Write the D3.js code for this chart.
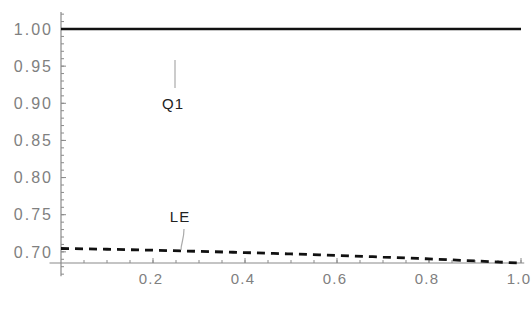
<!DOCTYPE html>
<html>
<head>
<meta charset="utf-8">
<script src="https://cdn.jsdelivr.net/npm/d3@7"></script>
<style>
  body { margin: 0; background: #fff; }
  text { font-family: "Liberation Sans", Arial, sans-serif; }
</style>
</head>
<body>
<div id="chart"></div>
<script>
// data
var xTicks = [0.2, 0.4, 0.6, 0.8, 1.0];
var yTicks = [0.70, 0.75, 0.80, 0.85, 0.90, 0.95, 1.00];

var q1X = [0, 1];
var q1Y = [1.0, 1.0];

var leX = [0, 0.1, 0.2, 0.3, 0.4, 0.5, 0.6, 0.7, 0.8, 0.9, 1.0];
var leY = [0.7045, 0.7035, 0.7022, 0.7007, 0.6990, 0.6972, 0.6952, 0.6930, 0.6905, 0.6878, 0.6848];

var width = 531, height = 320;

var x = d3.scaleLinear().domain([0, 1]).range([61, 521]);
var y = d3.scaleLinear().domain([0.685, 1.0]).range([263, 29]);

var svg = d3.select('#chart').append('svg')
    .attr('width', width)
    .attr('height', height);

var axisColor = '#8a8a8a';

// y axis
var yAxis = svg.append('g');
yAxis.append('line')
    .attr('x1', x(0)).attr('x2', x(0))
    .attr('y1', y(1.023)).attr('y2', y(0.667))
    .attr('stroke', axisColor).attr('stroke-width', 1.2);

var yMinor = d3.range(0.67, 1.0201, 0.01);
yAxis.selectAll('.ymin').data(yMinor).enter().append('line')
    .attr('x1', x(0)).attr('x2', x(0) + 3)
    .attr('y1', function (d) { return y(d); })
    .attr('y2', function (d) { return y(d); })
    .attr('stroke', axisColor).attr('stroke-width', 1);

yAxis.selectAll('.ymaj').data(yTicks).enter().append('line')
    .attr('x1', x(0)).attr('x2', x(0) + 5)
    .attr('y1', function (d) { return y(d); })
    .attr('y2', function (d) { return y(d); })
    .attr('stroke', axisColor).attr('stroke-width', 1);

yAxis.selectAll('text').data(yTicks).enter().append('text')
    .attr('x', x(0) - 8)
    .attr('y', function (d) { return y(d); })
    .attr('dy', '0.36em')
    .attr('text-anchor', 'end')
    .attr('fill', '#808080')
    .attr('font-size', 16)
    .attr('letter-spacing', 2)
    .text(function (d) { return d3.format('.2f')(d); });

// x axis
var xAxis = svg.append('g');
xAxis.append('line')
    .attr('x1', x(-0.025)).attr('x2', x(1.007))
    .attr('y1', y(0.685)).attr('y2', y(0.685))
    .attr('stroke', axisColor).attr('stroke-width', 1.2);

var xMinor = d3.range(0.05, 1.001, 0.05);
xAxis.selectAll('.xmin').data(xMinor).enter().append('line')
    .attr('x1', function (d) { return x(d); })
    .attr('x2', function (d) { return x(d); })
    .attr('y1', y(0.685)).attr('y2', y(0.685) - 3)
    .attr('stroke', axisColor).attr('stroke-width', 1);

xAxis.selectAll('.xmaj').data(xTicks).enter().append('line')
    .attr('x1', function (d) { return x(d); })
    .attr('x2', function (d) { return x(d); })
    .attr('y1', y(0.685)).attr('y2', y(0.685) - 5)
    .attr('stroke', axisColor).attr('stroke-width', 1);

xAxis.selectAll('text').data(xTicks).enter().append('text')
    .attr('x', function (d) { return x(d) - 2; })
    .attr('y', y(0.685) + 21)
    .attr('text-anchor', 'middle')
    .attr('fill', '#808080')
    .attr('font-size', 15)
    .attr('letter-spacing', 1.2)
    .text(function (d) { return d3.format('.1f')(d); });

// series
var line = d3.line()
    .x(function (d) { return x(d[0]); })
    .y(function (d) { return y(d[1]); });

svg.append('path')
    .datum(d3.zip(q1X, q1Y))
    .attr('d', line)
    .attr('fill', 'none')
    .attr('stroke', '#111')
    .attr('stroke-width', 2.6);

svg.append('path')
    .datum(d3.zip(leX, leY))
    .attr('d', line.curve(d3.curveMonotoneX))
    .attr('fill', 'none')
    .attr('stroke', '#111')
    .attr('stroke-width', 2.8)
    .attr('stroke-dasharray', '8,6');

// labels with leader lines
svg.append('line')
    .attr('x1', 175).attr('x2', 175)
    .attr('y1', 60).attr('y2', 88)
    .attr('stroke', '#aaa').attr('stroke-width', 1.2);
svg.append('text')
    .attr('x', 173).attr('y', 109)
    .attr('text-anchor', 'middle')
    .attr('font-size', 15)
    .attr('letter-spacing', 1)
    .attr('fill', '#222')
    .text('Q1');

svg.append('path')
    .attr('d', 'M184,229 C184,240 181,243 181,250')
    .attr('fill', 'none')
    .attr('stroke', '#aaa').attr('stroke-width', 1.2);
svg.append('text')
    .attr('x', 180).attr('y', 222)
    .attr('text-anchor', 'middle')
    .attr('font-size', 15)
    .attr('letter-spacing', 1)
    .attr('fill', '#222')
    .text('LE');
</script>
</body>
</html>
